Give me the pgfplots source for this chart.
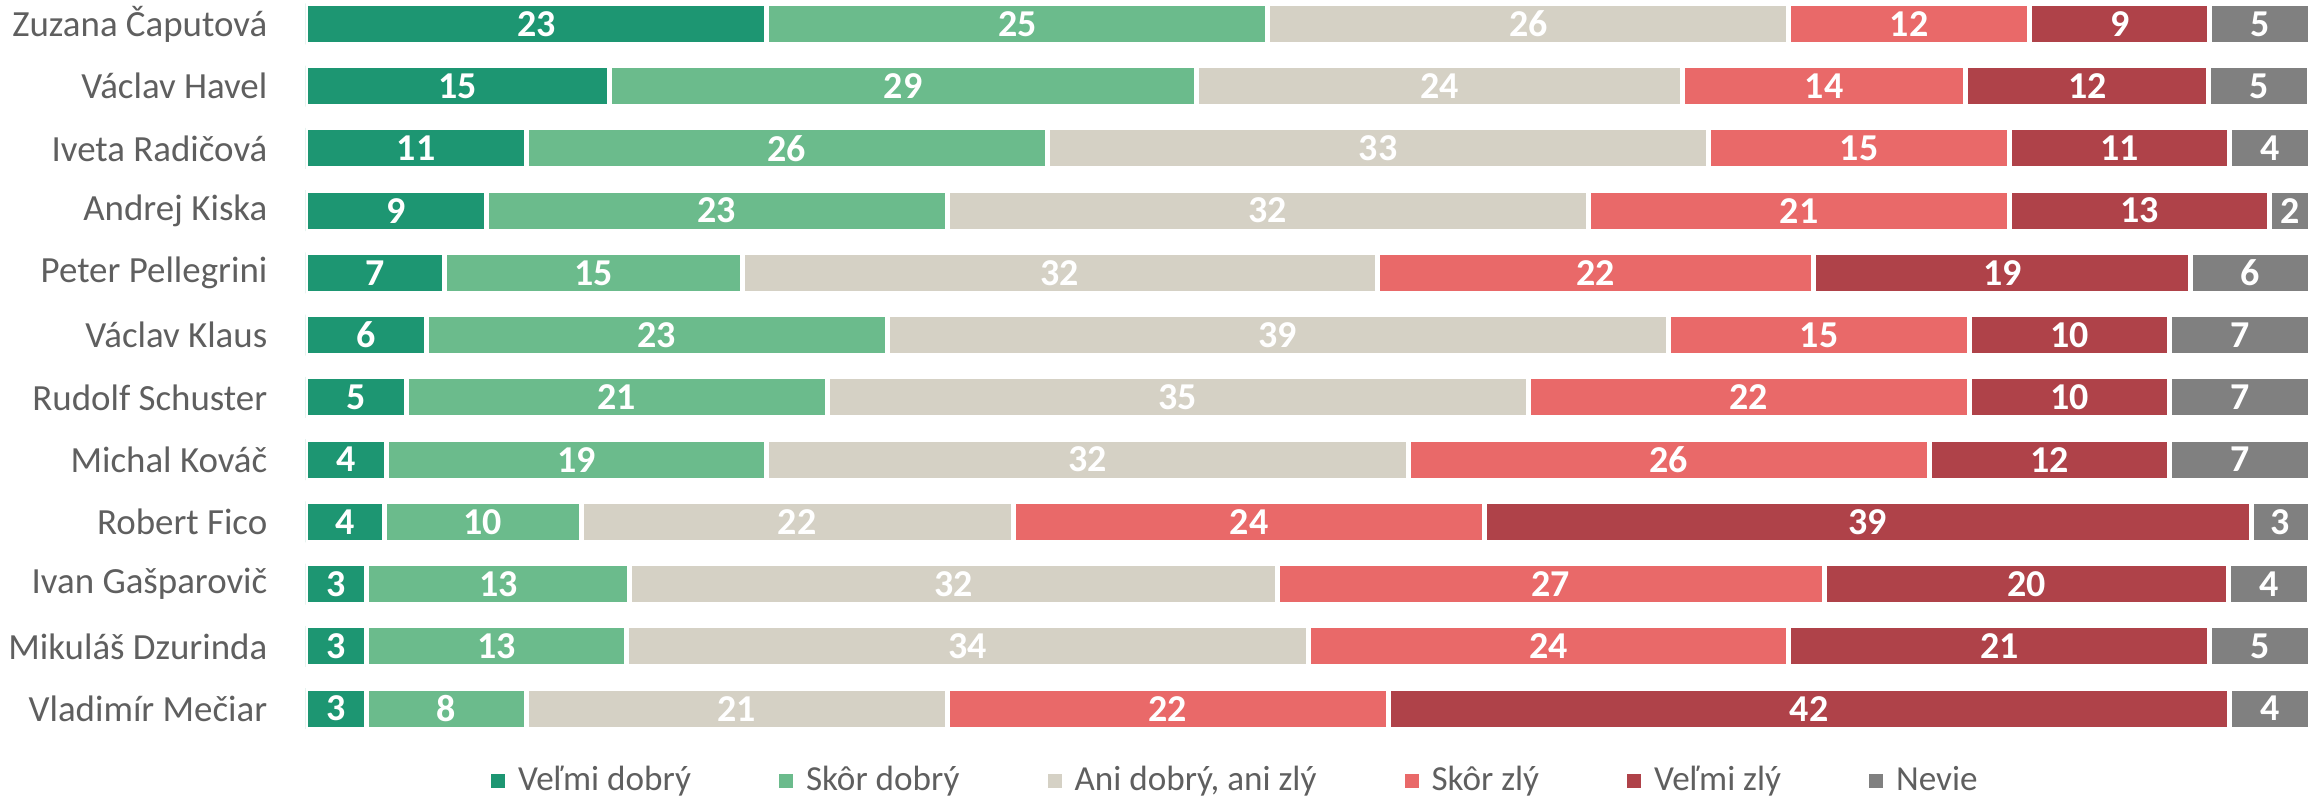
\documentclass[border=0pt]{standalone}
\usepackage{fontspec}
\setmainfont{Carlito}
\usepackage{pgfplots}
\usepackage{pgfplotstable}
\pgfplotsset{compat=1.18}
\definecolor{cA}{HTML}{1D9672}
\definecolor{cB}{HTML}{6BBB8C}
\definecolor{cC}{HTML}{D5D1C5}
\definecolor{cD}{HTML}{E96969}
\definecolor{cE}{HTML}{AF4249}
\definecolor{cF}{HTML}{808080}
\definecolor{nameGray}{HTML}{5F5F5F}
\pgfplotstableread{
y a b c d e f tot
0 23 25 26 12 9 5 100
1 15 29 24 14 12 5 99
2 11 26 33 15 11 4 100
3 9 23 32 21 13 2 100
4 7 15 32 22 19 6 101
5 6 23 39 15 10 7 100
6 5 21 35 22 10 7 100
7 4 19 32 26 12 7 100
8 4 10 22 24 39 3 102
9 3 13 32 27 20 4 99
10 3 13 34 24 21 5 100
11 3 8 21 22 42 4 100
}\data
\begin{document}
\begin{tikzpicture}
\useasboundingbox (-30.6mm,-6.02mm) rectangle (200.4mm,73.98mm);
\begin{axis}[
  at={(0,0)}, anchor=south west,
  scale only axis, width=200.4mm, height=74.7mm,
  xbar stacked, bar width=4.1mm,
  xmin=0, xmax=100, ymin=-0.5, ymax=11.5, y dir=reverse,
  hide x axis, axis y line*=left, y axis line style={draw=none},
  ytick={0,...,11},
  yticklabels={Zuzana Čaputová, Václav Havel, Iveta Radičová, Andrej Kiska, Peter Pellegrini, Václav Klaus, Rudolf Schuster, Michal Kováč, Robert Fico, Ivan Gašparovič, Mikuláš Dzurinda, Vladimír Mečiar},
  major tick length=0,
  yticklabel style={font=\fontsize{10.5}{12}\selectfont, text=nameGray, inner sep=0pt, xshift=-3.8mm},
  every axis plot/.append style={draw=white, line width=0.5mm},
  nodes near coords, point meta=explicit symbolic,
  every node near coord/.append style={font=\fontsize{10.8}{12}\selectfont\bfseries, text=white, draw=none},
  legend columns=6,
  legend style={draw=none, fill=none, at={(0.465,-0.055)}, anchor=center,
    font=\fontsize{10}{12}\selectfont, text=nameGray,
    /tikz/every odd column/.append style={column sep=0.6mm},
    /tikz/every even column/.append style={column sep=8.1mm}},
  legend image code/.code={\fill[#1, draw=none] (0mm,-0.7mm) rectangle (1.4mm,0.7mm);},
]
\addplot[fill=cA] table[x expr=\thisrow{a}*100/\thisrow{tot}, y=y, meta=a]{\data};
\addplot[fill=cB] table[x expr=\thisrow{b}*100/\thisrow{tot}, y=y, meta=b]{\data};
\addplot[fill=cC] table[x expr=\thisrow{c}*100/\thisrow{tot}, y=y, meta=c]{\data};
\addplot[fill=cD] table[x expr=\thisrow{d}*100/\thisrow{tot}, y=y, meta=d]{\data};
\addplot[fill=cE] table[x expr=\thisrow{e}*100/\thisrow{tot}, y=y, meta=e]{\data};
\addplot[fill=cF] table[x expr=\thisrow{f}*100/\thisrow{tot}, y=y, meta=f]{\data};
\legend{Veľmi dobrý, Skôr dobrý, {Ani dobrý, ani zlý}, Skôr zlý, Veľmi zlý, Nevie}
\end{axis}
\end{tikzpicture}
\end{document}
